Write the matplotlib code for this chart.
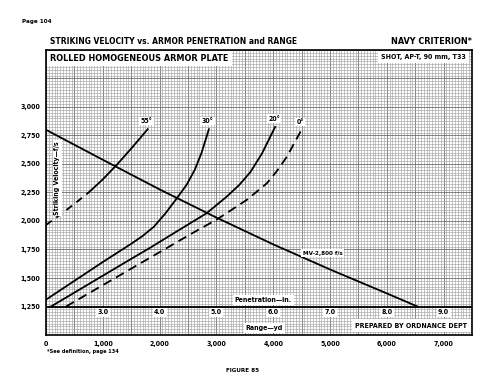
import matplotlib
matplotlib.use("Agg")
import matplotlib.pyplot as plt
import numpy as np

# ---------------- data ----------------
range_ticks = [0, 1000, 2000, 3000, 4000, 5000, 6000, 7000]
range_labels = ["0", "1,000", "2,000", "3,000", "4,000", "5,000", "6,000", "7,000"]
vel_ticks = [1250, 1500, 1750, 2000, 2250, 2500, 2750, 3000]
vel_labels = ["1,250", "1,500", "1,750", "2,000", "2,250", "2,500", "2,750", "3,000"]
pen_labels = ["3.0", "4.0", "5.0", "6.0", "7.0", "8.0", "9.0"]
pen_positions = [1000, 2000, 3000, 4000, 5000, 6000, 7000]

# striking velocity vs range (MV 2,800 f/s)
mv_range = [0, 1000, 2000, 3000, 4000, 5000, 6000, 6540]
mv_vel = [2800, 2537, 2277, 2030, 1795, 1575, 1365, 1250]

# armor penetration curves (x in range-yd coordinate, y velocity f/s)
c55_x = [0, 250, 500, 750, 1000, 1250, 1500, 1790]
c55_v = [1965, 2055, 2150, 2250, 2365, 2495, 2635, 2805]
c30_x = [0, 500, 1000, 1500, 1700, 1900, 2100, 2284, 2479, 2620, 2740, 2868]
c30_v = [1310, 1475, 1640, 1800, 1868, 1950, 2065, 2186, 2320, 2450, 2600, 2805]
c20_x = [88, 500, 1000, 1500, 1825, 2297, 2827, 3180, 3400, 3600, 3800, 4034]
c20_v = [1250, 1372, 1520, 1668, 1763, 1907, 2068, 2213, 2315, 2430, 2590, 2825]
c0_x = [353, 1000, 1500, 2178, 2600, 3004, 3534, 3887, 4060, 4240, 4494]
c0_v = [1250, 1437, 1582, 1778, 1900, 2012, 2185, 2330, 2435, 2563, 2796]
curve_labels = ["55°", "30°", "20°", "0°"]

plt.rcParams["font.family"] = ["DejaVu Sans"]
plt.rcParams["font.stretch"] = "condensed"
plt.rcParams["font.weight"] = "bold"

fig = plt.figure(figsize=(5.0, 3.91), dpi=100)
ax = fig.add_axes([0.092, 0.1432, 0.852, 0.729])
ax.set_xlim(0, 7500)
ax.set_ylim(1000, 3500)

# graph-paper grid
for xv in np.arange(0, 7501, 50):
    heavy = (xv % 500 == 0)
    ax.axvline(xv, color="#6e6e6e" if heavy else "#a4a4a4", lw=0.6 if heavy else 0.45, zorder=0)
for yv in np.arange(1000, 3501, 25):
    heavy = (yv % 250 == 0)
    ax.axhline(yv, color="#6e6e6e" if heavy else "#a4a4a4", lw=0.6 if heavy else 0.45, zorder=0)

LW = 1.3
ax.plot(mv_range, mv_vel, color="black", lw=LW, zorder=3)
ax.plot(c55_x[:4], c55_v[:4], color="black", lw=LW, ls=(0, (4, 3)), zorder=3)
ax.plot(c55_x[3:], c55_v[3:], color="black", lw=LW, zorder=3)
ax.plot(c30_x, c30_v, color="black", lw=LW, zorder=3)
ax.plot(c20_x, c20_v, color="black", lw=LW, zorder=3)
ax.plot(c0_x, c0_v, color="black", lw=LW, ls=(0, (5, 3)), zorder=3)

# penetration scale line
ax.axhline(1250, color="black", lw=1.3, zorder=3)

box = dict(facecolor="white", edgecolor="none", pad=1.0)
tkw = dict(fontweight="bold", color="black", zorder=5)

for lab, xs, vs in zip(curve_labels, [c55_x, c30_x, c20_x, c0_x], [c55_v, c30_v, c20_v, c0_v]):
    ax.text(xs[-1] - 20, vs[-1] + 45, lab, ha="center", va="bottom", fontsize=5, bbox=box, **tkw)

ax.text(4870, 1717, "MV-2,800 f/s", ha="center", va="center", fontsize=4.5, bbox=box, **tkw)

for p, lab in zip(pen_positions, pen_labels):
    ax.text(p, 1198, lab, ha="center", va="center", fontsize=5, bbox=box, **tkw)

ax.text(4330, 1310, "Penetration\u2014in.", ha="right", va="center", fontsize=5,
        bbox=dict(facecolor="white", edgecolor="none", pad=1.5), **tkw)
ax.text(4170, 1058, "Range\u2014yd", ha="right", va="center", fontsize=5,
        bbox=dict(facecolor="white", edgecolor="none", pad=1.5), **tkw)
ax.text(7420, 1083, "PREPARED BY ORDNANCE DEPT", ha="right", va="center", fontsize=5,
        bbox=dict(facecolor="white", edgecolor="none", pad=2.5), **tkw)

ax.text(200, 2377, "Striking Velocity\u2014f/s", rotation=90, ha="center", va="center",
        fontsize=5, bbox=box, **tkw)

ax.text(0.01, 0.985, "ROLLED HOMOGENEOUS ARMOR PLATE", transform=ax.transAxes, ha="left", va="top",
        fontsize=6.5, bbox=dict(facecolor="white", edgecolor="none", pad=2.2), **tkw)
ax.text(0.985, 0.985, "SHOT, AP-T, 90 mm, T33", transform=ax.transAxes, ha="right", va="top",
        fontsize=5, bbox=dict(facecolor="white", edgecolor="none", pad=2.2), **tkw)

ax.set_xticks(range_ticks)
ax.set_xticklabels(range_labels, fontweight="bold", fontsize=5)
ax.set_yticks(vel_ticks)
ax.set_yticklabels(vel_labels, fontweight="bold", fontsize=5)
ax.tick_params(length=0, pad=4)
for s in ax.spines.values():
    s.set_linewidth(1.2)
    s.set_color("black")

fig.text(22 / 500, 1 - 22 / 391, "Page 104", ha="left", va="center", fontsize=4.5, fontweight="bold")
fig.text(50 / 500, 1 - 42 / 391, "STRIKING VELOCITY vs. ARMOR PENETRATION and RANGE", ha="left", va="center",
         fontsize=6.0, fontweight="bold")
fig.text(472 / 500, 1 - 42 / 391, "NAVY CRITERION*", ha="right", va="center",
         fontsize=6.5, fontweight="bold")
fig.text(47 / 500, 1 - 351 / 391, "*See definition, page 134", ha="left", va="center",
         fontsize=4, fontweight="bold")
fig.text(243 / 500, 1 - 370 / 391, "FIGURE 85", ha="center", va="center",
         fontsize=4.5, fontweight="bold")

fig.savefig("out.png", dpi=100, facecolor="white")
